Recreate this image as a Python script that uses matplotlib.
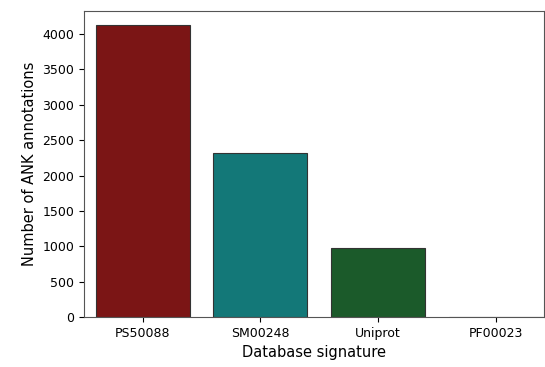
import numpy as np
import matplotlib.pyplot as plt

# bar values
signatures = ['PS50088', 'SM00248', 'Uniprot', 'PF00023']
counts = [4125, 2318, 975, 0]
colors = ['#7b1515', '#137878', '#1b5a2a', '#444444']

fig = plt.figure(figsize=(5.45, 3.67), dpi=100)
ax = fig.add_axes([0.154, 0.136, 0.844, 0.834])

x = np.arange(len(signatures))
ax.bar(x, counts, width=0.8, color=colors, edgecolor='#333333', linewidth=0.8)

ax.set_xticks(x)
ax.set_xticklabels(signatures, fontsize=9)
ax.tick_params(axis='y', labelsize=9)
ax.set_xlim(-0.5, 3.41)
ax.set_ylim(0, 4325)
ax.set_yticks(np.arange(0, 4001, 500))
ax.set_xlabel('Database signature', fontsize=10.5)
ax.set_ylabel('Number of ANK annotations', fontsize=10.5)
for s in ax.spines.values():
    s.set_color('#555555')

fig.savefig('out.png', dpi=100)
